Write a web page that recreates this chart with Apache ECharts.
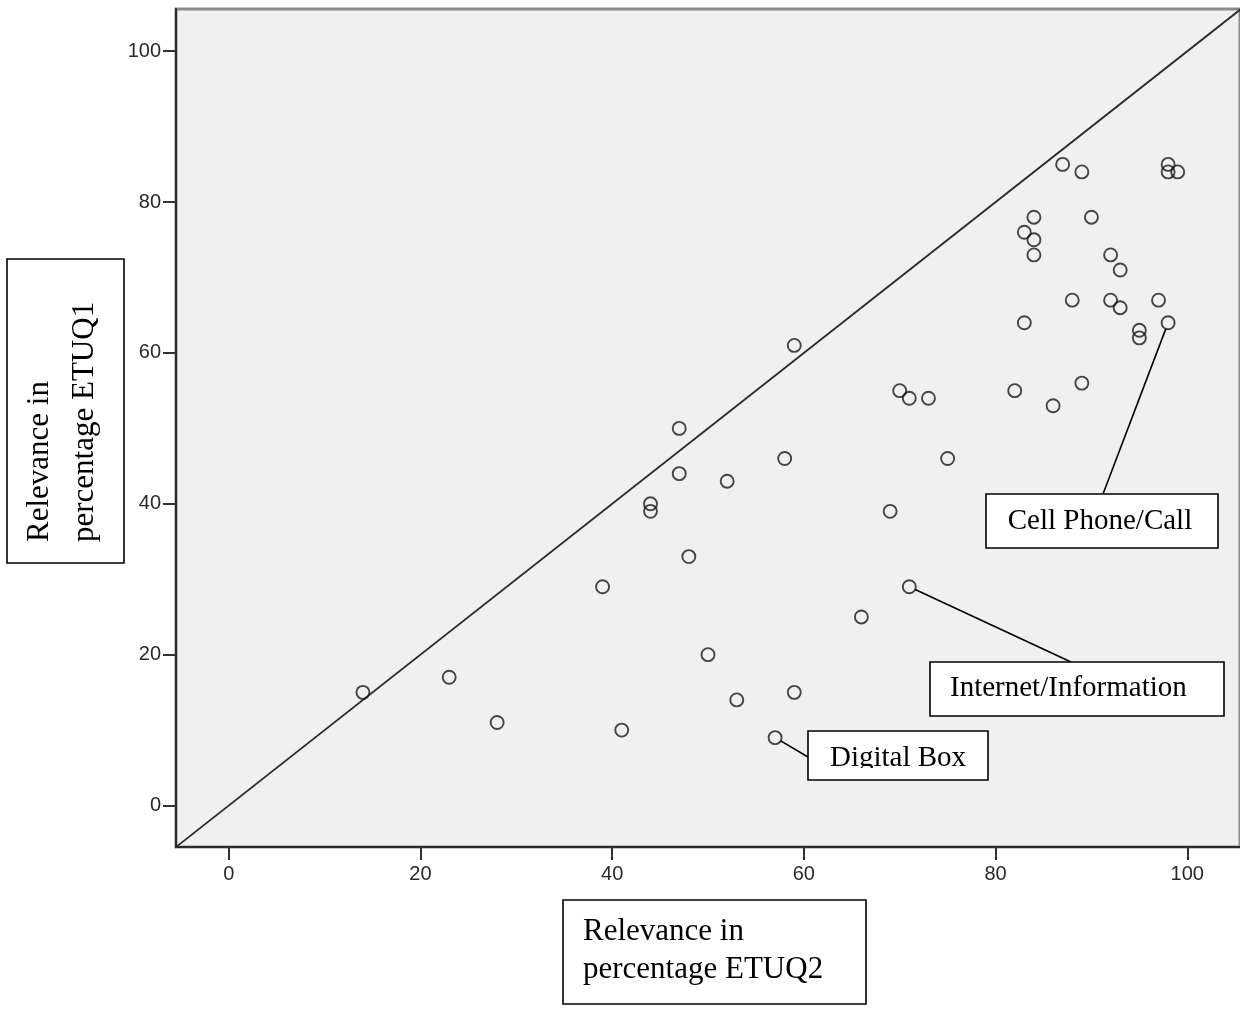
<!DOCTYPE html>
<html><head><meta charset="utf-8">
<script src="https://cdn.jsdelivr.net/npm/echarts@6/dist/echarts.min.js"></script>
<style>html,body{margin:0;padding:0;background:#fff}#c{width:1240px;height:1012px}</style>
</head><body><div id="c"></div>
<script>
// ---- data ----
const etuq2 = [14,23,28,39,41,44,44,47,47,48,50,52,53,57,58,59,59,66,69,70,71,71,73,75,82,83,83,84,84,84,86,87,88,89,89,90,92,92,93,93,95,95,97,98,98,99,98];
const etuq1 = [15,17,11,29,10,40,39,50,44,33,20,43,14,9,46,61,15,25,39,55,54,29,54,46,55,64,76,78,75,73,53,85,67,84,56,78,73,67,71,66,63,62,67,85,84,84,64];
const xTicks = [0,20,40,60,80,100];
const yTicks = [0,20,40,60,80,100];
const calloutLabels = ['Cell Phone/Call','Internet/Information','Digital Box'];
const calloutX = [98,71,57];
const calloutY = [64,29,9];
const xTitleLines = ['Relevance in','percentage ETUQ2'];
const yTitleLines = ['Relevance in','percentage ETUQ1'];
const identityRange = [-10,110];

// ---- layout (pixels) ----
const calloutBoxes = [
  {x:986,y:494,w:232,h:54,tx:1100,ty:521,align:'center',ax:1103,ay:494},
  {x:930,y:662,w:294,h:54,tx:950,ty:688,align:'left',ax:1071,ay:662},
  {x:808,y:731,w:180,h:49,tx:898,ty:758,align:'center',ax:808,ay:757,clipY:768}
];
const serif = '"Liberation Serif","Times New Roman",serif';

const chart = echarts.init(document.getElementById('c'), null, {renderer:'canvas'});
const points = etuq2.map((v,i)=>[v,etuq1[i]]);

const axisCommon = {
  type:'value',
  splitLine:{show:false},
  axisLine:{show:true,onZero:false,lineStyle:{color:'#2b2b2b',width:2}},
  axisTick:{show:true,length:13,lineStyle:{color:'#333',width:2}},
  axisLabel:{color:'#2a2a2a',fontSize:20,fontFamily:'"Liberation Sans",Arial,sans-serif'}
};

chart.setOption({
  animation:false,
  grid:{left:176,top:9,right:-3,bottom:165,show:true,backgroundColor:'#f0f0f0',borderColor:'#8a8a8a',borderWidth:3},
  xAxis:Object.assign({},axisCommon,{min:-5.5,max:105.5,
    axisTick:Object.assign({},axisCommon.axisTick,{customValues:xTicks}),
    axisLabel:Object.assign({},axisCommon.axisLabel,{customValues:xTicks,margin:17})}),
  yAxis:Object.assign({},axisCommon,{min:-5.5,max:105.6,
    axisTick:Object.assign({},axisCommon.axisTick,{customValues:yTicks}),
    axisLabel:Object.assign({},axisCommon.axisLabel,{customValues:yTicks,margin:15})}),
  series:[
    {type:'line',data:identityRange.map(v=>[v,v]),symbol:'none',clip:true,
     lineStyle:{color:'#2a2a2a',width:1.8},silent:true,z:2},
    {type:'scatter',data:points,symbol:'circle',symbolSize:13,
     itemStyle:{color:'rgba(0,0,0,0)',borderColor:'#1a1a1a',borderWidth:1.9},
     emphasis:{disabled:true},silent:true,z:3}
  ]
});

const g = [];
calloutBoxes.forEach((b,i)=>{
  const p = chart.convertToPixel({gridIndex:0},[calloutX[i],calloutY[i]]);
  const dx = b.ax-p[0], dy = b.ay-p[1], L = Math.hypot(dx,dy);
  const sx = p[0]+dx/L*6.5, sy = p[1]+dy/L*6.5;
  g.push({type:'line',z:100,shape:{x1:sx,y1:sy,x2:b.ax,y2:b.ay},style:{stroke:'#000',lineWidth:1.6}});
  g.push({type:'rect',z:101,shape:{x:b.x,y:b.y,width:b.w,height:b.h},style:{fill:'#fff',stroke:'#000',lineWidth:1.6}});
  g.push({type:'text',z:102,x:b.tx,y:b.ty,style:{text:calloutLabels[i],font:'29px '+serif,fill:'#000',textAlign:b.align,textVerticalAlign:'middle'}});
  if (b.clipY) {
    g.push({type:'rect',z:103,shape:{x:b.x+1.5,y:b.clipY,width:b.w-3,height:b.y+b.h-b.clipY-1.5},style:{fill:'#fff'}});
  }
});
// x axis title box
g.push({type:'rect',z:101,shape:{x:563,y:900,width:303,height:104},style:{fill:'#fff',stroke:'#000',lineWidth:1.6}});
xTitleLines.forEach((t,i)=>{
  g.push({type:'text',z:102,x:583,y:932+i*38,style:{text:t,font:'31px '+serif,fill:'#000',textAlign:'left',textVerticalAlign:'middle'}});
});
// y axis title box
g.push({type:'rect',z:101,shape:{x:7,y:259,width:117,height:304},style:{fill:'#fff',stroke:'#000',lineWidth:1.6}});
yTitleLines.forEach((t,i)=>{
  g.push({type:'text',z:102,x:40+i*45,y:542,rotation:Math.PI/2,style:{text:t,font:'31px '+serif,fill:'#000',textAlign:'left',textVerticalAlign:'middle'}});
});
chart.setOption({graphic:g});
</script>
</body></html>
